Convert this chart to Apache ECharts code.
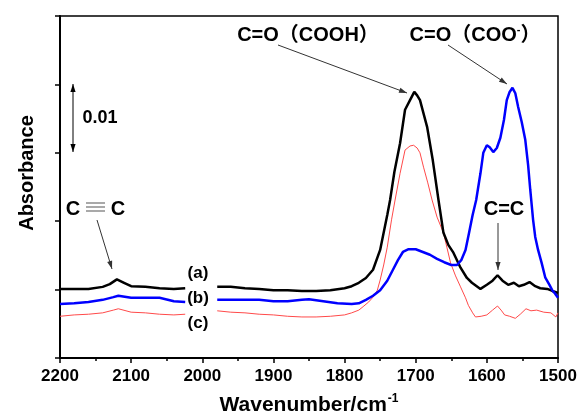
<!DOCTYPE html>
<html><head><meta charset="utf-8">
<script src="https://cdn.jsdelivr.net/npm/echarts@6/dist/echarts.min.js"></script>
<style>html,body{margin:0;padding:0;background:#fff}#c{width:578px;height:415px}</style>
</head><body><div id="c"></div>
<script>
// Wavenumber (cm-1) / absorbance pairs; null marks the gap behind the (a)(b)(c) labels
const curveA = [
[2200,0.0101],[2180,0.0101],[2160,0.0101],[2140,0.0104],[2130,0.0108],[2120,0.0115],[2110,0.0110],[2100,0.0105],[2080,0.0104],[2060,0.0102],[2040,0.0101],[2024,0.0102],
[2000,null],
[1979,0.0104],[1960,0.0104],[1940,0.0102],[1920,0.0101],[1900,0.0099],[1880,0.0099],[1860,0.0098],[1840,0.0098],[1820,0.0099],[1800,0.0102],[1790,0.0105],[1780,0.0110],[1770,0.0117],[1760,0.0129],[1750,0.0158],[1740,0.0209],[1736,0.0231],[1730,0.0272],[1722,0.0314],[1715,0.0363],[1708,0.0377],[1702,0.0389],[1698,0.0384],[1694,0.0377],[1684,0.0338],[1676,0.0289],[1668,0.0231],[1661,0.0183],[1654,0.0165],[1647,0.0154],[1637,0.0132],[1628,0.0117],[1621,0.0110],[1609,0.0101],[1600,0.0107],[1592,0.0113],[1585,0.0121],[1578,0.0113],[1570,0.0107],[1562,0.0110],[1555,0.0105],[1548,0.0107],[1540,0.0111],[1532,0.0105],[1525,0.0102],[1515,0.0101],[1508,0.0098],[1500,0.0095]
];
const curveB = [
[2200,0.0079],[2180,0.0080],[2160,0.0082],[2140,0.0085],[2125,0.0089],[2118,0.0091],[2100,0.0088],[2080,0.0088],[2060,0.0088],[2040,0.0083],[2024,0.0082],
[2000,null],
[1979,0.0085],[1950,0.0085],[1920,0.0085],[1900,0.0083],[1880,0.0083],[1860,0.0085],[1850,0.0086],[1830,0.0083],[1810,0.0080],[1790,0.0079],[1780,0.0080],[1770,0.0085],[1760,0.0091],[1750,0.0099],[1740,0.0113],[1732,0.0129],[1725,0.0143],[1718,0.0155],[1710,0.0159],[1700,0.0159],[1690,0.0155],[1680,0.0151],[1670,0.0145],[1660,0.0140],[1650,0.0136],[1642,0.0136],[1636,0.0143],[1630,0.0158],[1625,0.0183],[1620,0.0209],[1615,0.0231],[1609,0.0270],[1605,0.0300],[1600,0.0311],[1596,0.0308],[1591,0.0301],[1586,0.0307],[1581,0.0322],[1576,0.0348],[1572,0.0377],[1568,0.0389],[1564,0.0395],[1560,0.0387],[1556,0.0367],[1551,0.0345],[1546,0.0319],[1542,0.0282],[1539,0.0246],[1535,0.0202],[1532,0.0177],[1528,0.0158],[1523,0.0139],[1518,0.0118],[1512,0.0107],[1508,0.0099],[1504,0.0094],[1500,0.0088]
];
const curveC = [
[2200,0.0061],[2180,0.0063],[2160,0.0064],[2140,0.0066],[2125,0.0070],[2118,0.0072],[2100,0.0067],[2080,0.0066],[2060,0.0064],[2040,0.0063],[2024,0.0064],
[2000,null],
[1979,0.0069],[1960,0.0067],[1940,0.0066],[1920,0.0064],[1900,0.0063],[1880,0.0061],[1860,0.0060],[1840,0.0060],[1820,0.0061],[1800,0.0063],[1790,0.0066],[1780,0.0070],[1774,0.0075],[1766,0.0082],[1760,0.0089],[1754,0.0099],[1750,0.0114],[1745,0.0136],[1740,0.0162],[1734,0.0202],[1729,0.0231],[1722,0.0270],[1715,0.0304],[1708,0.0310],[1703,0.0311],[1698,0.0307],[1694,0.0300],[1689,0.0279],[1683,0.0256],[1677,0.0231],[1670,0.0206],[1661,0.0183],[1656,0.0161],[1651,0.0139],[1644,0.0120],[1637,0.0104],[1630,0.0088],[1626,0.0077],[1620,0.0066],[1616,0.0060],[1608,0.0061],[1600,0.0063],[1592,0.0070],[1585,0.0076],[1580,0.0070],[1575,0.0063],[1568,0.0061],[1560,0.0058],[1553,0.0064],[1545,0.0072],[1538,0.0069],[1530,0.0070],[1520,0.0067],[1510,0.0066],[1503,0.0060],[1500,0.0066]
];
const xTicks = {min:1500, max:2200, step:100};
const yTicks = {min:0, max:0.05, step:0.01};
const seriesNames = ['(a)','(b)','(c)'];

const FONT = '"Liberation Sans", Arial, "Noto Sans CJK SC", sans-serif';
const chart = echarts.init(document.getElementById('c'), null, {renderer:'canvas'});
chart.setOption({
  animation:false,
  backgroundColor:'#fff',
  grid:{left:60, right:20, top:16, bottom:57, containLabel:false, outerBoundsMode:'none', show:true, borderColor:'#000', borderWidth:1.5},
  xAxis:{
    type:'value', inverse:true, min:xTicks.min, max:xTicks.max, interval:xTicks.step,
    axisLine:{show:true, onZero:false, lineStyle:{color:'#000', width:2}},
    axisTick:{show:true, inside:false, length:5, lineStyle:{color:'#000', width:1.5}},
    minorTick:{show:true, splitNumber:2, length:3, lineStyle:{color:'#000', width:1.5}},
    splitLine:{show:false},
    axisLabel:{color:'#000', fontSize:17, fontWeight:'bold', fontFamily:FONT, margin:10, formatter:v=>String(v)},
    name:'Wavenumber/cm{s|-1}', nameLocation:'middle', nameGap:35,
    nameTextStyle:{color:'#000', fontSize:21, fontWeight:'bold', fontFamily:FONT,
      rich:{s:{fontSize:12, fontWeight:'bold', fontFamily:FONT, color:'#000', padding:[0,0,12,1]}}}
  },
  yAxis:{
    type:'value', min:yTicks.min, max:yTicks.max, interval:yTicks.step,
    axisLine:{show:true, lineStyle:{color:'#000', width:2}},
    axisTick:{show:true, inside:false, length:5, lineStyle:{color:'#000', width:1.5}},
    axisLabel:{show:false}, splitLine:{show:false}
  },
  series:[
    {name:seriesNames[0], type:'line', data:curveA, showSymbol:false, connectNulls:false, lineStyle:{color:'#000', width:2.5}, z:3},
    {name:seriesNames[1], type:'line', data:curveB, showSymbol:false, connectNulls:false, lineStyle:{color:'#0000ff', width:2.5}, z:4},
    {name:seriesNames[2], type:'line', data:curveC, showSymbol:false, connectNulls:false, lineStyle:{color:'#ff4a4a', width:1}, z:2}
  ]
});

function arrow(x1,y1,x2,y2,color,both){
  const els=[];
  els.push({type:'line', shape:{x1,y1,x2,y2}, style:{stroke:color, lineWidth:1}, z:10});
  function head(ax,ay,bx,by){
    const a=Math.atan2(ay-by, ax-bx), L=8, W=2.6;
    const px=ax-L*Math.cos(a), py=ay-L*Math.sin(a);
    return {type:'polygon', shape:{points:[[ax,ay],[px+W*Math.sin(a),py-W*Math.cos(a)],[px-W*Math.sin(a),py+W*Math.cos(a)]]}, style:{fill:color}, z:10};
  }
  els.push(head(x2,y2,x1,y1));
  if(both) els.push(head(x1,y1,x2,y2));
  return els;
}
function txt(s,x,y,size){
  return {type:'text', z:11, style:{text:s, x, y, fill:'#000', font:'bold '+size+'px '+FONT, textAlign:'center', textVerticalAlign:'middle'}};
}
const g=[];
g.push(txt('C=O（COOH）',308,35,20));
g.push({type:'text', z:11, style:{x:475, y:35, textAlign:'center', textVerticalAlign:'middle',
  text:'{n|C=O（COO}{s|-}{n|）}',
  rich:{n:{font:'bold 20px '+FONT, fill:'#000'}, s:{font:'bold 11px '+FONT, fill:'#000', padding:[0,0,10,0]}}}});
// C≡C : two C's with a drawn triple bond
g.push(txt('C',73,209,20));
g.push(txt('C',118,209,20));
[203,207,211].forEach(y=>g.push({type:'line', z:11, shape:{x1:86,y1:y,x2:105,y2:y}, style:{stroke:'#7a7a7a', lineWidth:1.3}}));
g.push(txt('C=C',504,209,20));
g.push(txt('0.01',100,118,18));
g.push(txt('(a)',198,273,17));
g.push(txt('(b)',198,298,17));
g.push(txt('(c)',198,323,17));
g.push({type:'text', z:11, rotation:Math.PI/2, x:27, y:173, style:{text:'Absorbance', x:0, y:0, fill:'#000', font:'bold 20px '+FONT, textAlign:'center', textVerticalAlign:'middle'}});
g.push(...arrow(278,45,407,93,'#333'));
g.push(...arrow(448,45,507,84,'#333'));
g.push(...arrow(97,220,112,269,'#333'));
g.push(...arrow(498,223,498,270,'#333'));
g.push(...arrow(73,84,73,152,'#000',true));
chart.setOption({graphic:g});
</script></body></html>
